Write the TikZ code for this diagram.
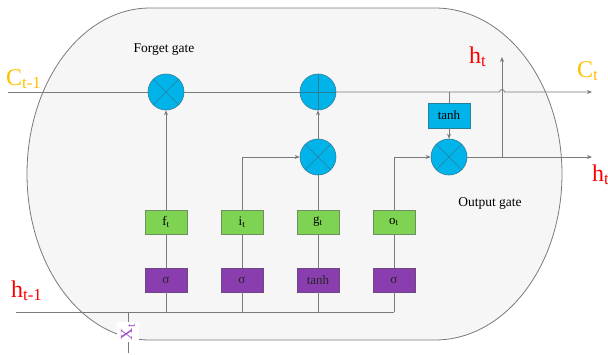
\documentclass[tikz,border=0pt]{standalone}
\usepackage{fontspec}
\setmainfont{Liberation Serif}
\usetikzlibrary{arrows.meta}
\definecolor{cellfill}{HTML}{F6F6F6}
\definecolor{opblue}{HTML}{00B4EA}
\definecolor{opedge}{HTML}{2B7D9C}
\definecolor{gatefill}{HTML}{7ED452}
\definecolor{gateedge}{HTML}{6F8F63}
\definecolor{actfill}{HTML}{8A3DAF}
\definecolor{actedge}{HTML}{6D4A7E}
\definecolor{wire}{HTML}{7A7A7A}
\definecolor{statecol}{HTML}{FFC000}
\definecolor{outcol}{HTML}{FF0000}
\definecolor{inputcol}{HTML}{9B4FC4}
\tikzset{
  wireline/.style={draw=wire, line width=0.8pt},
  arr/.style={wireline, -{Stealth[length=5pt,width=4pt]}},
  op/.style={circle, minimum size=36pt, inner sep=0pt, fill=opblue, draw=opedge, line width=0.6pt},
  gatebox/.style={rectangle, minimum width=42pt, minimum height=24pt, inner sep=0pt,
    fill=gatefill, draw=gateedge, line width=0.6pt, font=\fontsize{13}{13}\selectfont},
  actbox/.style={rectangle, minimum width=42pt, minimum height=24pt, inner sep=0pt,
    fill=actfill, draw=actedge, line width=0.6pt, text=black!85, font=\fontsize{13}{13}\selectfont},
  tanhbox/.style={rectangle, minimum width=42pt, minimum height=25pt, inner sep=0pt,
    fill=opblue, draw=opedge, line width=0.6pt, font=\fontsize{13}{13}\selectfont},
  biglabel/.style={inner sep=0pt, font=\fontsize{24}{24}\selectfont},
  gatename/.style={inner sep=0pt, font=\fontsize{13.5}{13.5}\selectfont},
}
\newcommand{\sub}[1]{\textsubscript{#1}}
\begin{document}
\begin{tikzpicture}[x=1pt, y=-1pt]
\useasboundingbox (0,0) rectangle (608,354);

% cell body
\path[fill=cellfill, draw=wire, line width=0.8pt]
  (150,8) -- (435,8)
  arc[start angle=-90, end angle=90, x radius=127, y radius=166]
  -- (150,340)
  arc[start angle=90, end angle=270, x radius=123, y radius=166] -- cycle;

% operators
\node[op] (fx) at (166,92) {};
\node[op] (plus) at (318,92) {};
\node[op] (gx) at (318,157) {};
\node[op] (ox) at (449,157) {};
\draw[opedge, line width=0.6pt] (fx.north east) -- (fx.south west) (fx.north west) -- (fx.south east);
\draw[opedge, line width=0.6pt] (gx.north east) -- (gx.south west) (gx.north west) -- (gx.south east);
\draw[opedge, line width=0.6pt] (ox.north east) -- (ox.south west) (ox.north west) -- (ox.south east);
\draw[opedge, line width=0.6pt] (plus.north) -- (plus.south) (plus.west) -- (plus.east);

% gates and activations
\node[gatebox] (fbox) at (166,222) {f\sub{t}};
\node[gatebox] (ibox) at (242,222) {i\sub{t}};
\node[gatebox] (gbox) at (318,222) {g\sub{t}};
\node[gatebox] (obox) at (394,222) {o\sub{t}};
\node[actbox] (fsig) at (166,280) {σ};
\node[actbox] (isig) at (242,280) {σ};
\node[actbox] (gtanh) at (318,280) {tanh};
\node[actbox] (osig) at (394,280) {σ};
\node[tanhbox] (ctanh) at (449,115.5) {tanh};

% junction points
\coordinate (cin) at (8,92);
\coordinate (cout) at (592,92);
\coordinate (hin) at (16,312);
\coordinate (hbus) at (394,312);
\coordinate (xin) at (128,353);
\coordinate (xjoin) at (128,312);
\coordinate (iturn) at (242,157);
\coordinate (oturn) at (394,157);
\coordinate (ctap) at (449,92);
\coordinate (hsplit) at (502,157);
\coordinate (hup) at (502,57);
\coordinate (hout) at (592,157);

% cell state line, hopping over the vertical output wire
\draw[wireline] (cin) -- (fx.west);
\draw[wireline] (fx.east) -- (plus.west);
\draw[arr] (plus.east) -- (499.5,92) arc[start angle=180, end angle=360, radius=2.5] -- (cout);

% input bus
\draw[wireline] (hin) -- (hbus);
\draw[wireline] (xin) -- (xjoin);
\foreach \s in {fsig,isig,gtanh,osig}
  \draw[wireline] (\s.south) -- (\s.south |- hin);
\draw[wireline] (fsig) -- (fbox);
\draw[wireline] (isig) -- (ibox);
\draw[wireline] (gtanh) -- (gbox);
\draw[wireline] (osig) -- (obox);

% gate outputs
\draw[arr] (fbox.north) -- (fx.south);
\draw[arr] (ibox.north) -- (iturn) -- (gx.west);
\draw[wireline] (gbox.north) -- (gx.south);
\draw[arr] (gx.north) -- (plus.south);
\draw[arr] (obox.north) -- (oturn) -- (ox.west);
\draw[wireline] (ctap) -- (ctanh.north);
\draw[arr] (ctanh.south) -- (ox.north);
\draw[arr] (ox.east) -- (hout);
\draw[arr] (hsplit) -- (hup);

% input label on the lower wire
\node[fill=white, inner xsep=2pt, inner ysep=4pt, rotate=90, text=inputcol, font=\fontsize{17}{17}\selectfont]
  (xlab) at (128,332) {X\sub{t}};

% signal names
\node[biglabel, text=statecol, anchor=base west] (cprev) at (6,85) {C\sub{t-1}};
\node[biglabel, text=outcol, anchor=base west] (hprev) at (11,297) {h\sub{t-1}};
\node[biglabel, text=outcol, anchor=base west] (htop) at (469,63) {h\sub{t}};
\node[biglabel, text=statecol, anchor=base west] (cnext) at (577,77) {C\sub{t}};
\node[biglabel, text=outcol, anchor=base west] (hright) at (592,181) {h\sub{t}};

% gate names
\node[gatename] (fgname) at (164,50) {Forget gate};
\node[gatename] (ogname) at (490,203) {Output gate};
\end{tikzpicture}
\end{document}
